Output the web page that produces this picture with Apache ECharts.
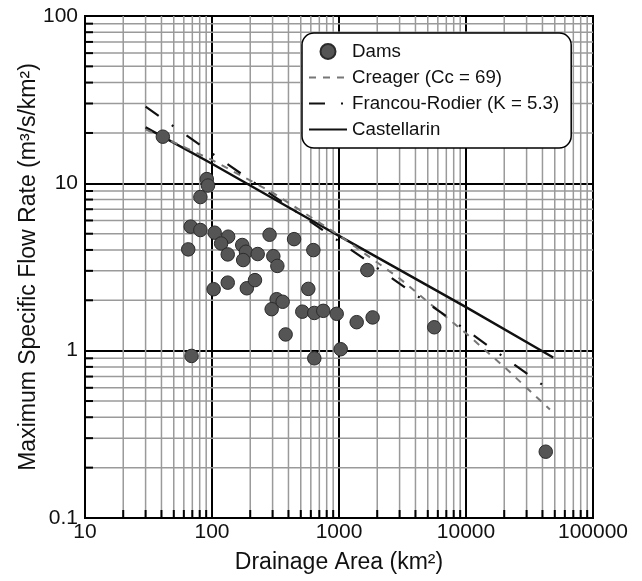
<!DOCTYPE html>
<html>
<head>
<meta charset="utf-8">
<script src="https://cdn.jsdelivr.net/npm/echarts@6/dist/echarts.min.js"></script>
<style>html,body{margin:0;padding:0;background:#fff;}#c{width:642px;height:581px;}</style>
</head>
<body>
<div id="c"></div>
<script>
// ---- data ----
const damArea = [41, 91, 93, 81, 68, 81, 105, 134, 284, 65, 118, 173, 185, 133, 176, 229, 304, 327, 103, 133, 188, 218, 323, 360, 295, 380, 69, 443, 628, 1672, 573, 514, 639, 752, 959, 1378, 1840, 1031, 639, 5623, 42460];
const damFlow = [19.0, 10.6, 9.7, 8.28, 5.51, 5.26, 5.07, 4.80, 4.93, 4.03, 4.37, 4.28, 3.90, 3.76, 3.48, 3.78, 3.67, 3.21, 2.33, 2.55, 2.36, 2.64, 2.03, 1.96, 1.77, 1.25, 0.93, 4.64, 3.99, 3.03, 2.34, 1.71, 1.68, 1.73, 1.66, 1.48, 1.58, 1.02, 0.90, 1.38, 0.249];

const creagerArea = [30, 100, 300, 1000, 3000, 10000, 20000, 45800];
const creagerFlow = [21.0, 13.8, 8.8, 4.9, 2.7, 1.27, 0.80, 0.445];

const francouArea = [30, 100, 1000, 10000, 44500];
const francouFlow = [28.7, 15.1, 4.5, 1.33, 0.59];

const castellarinArea = [30, 100, 1000, 10000, 48600];
const castellarinFlow = [21.6, 13.1, 4.85, 1.82, 0.91];

const xDecades = [10, 100, 1000, 10000];      // decades of the x axis (10 .. 100000)
const yDecades = [0.1, 1, 10];                // decades of the y axis (0.1 .. 100)
const minorSteps = [2, 3, 4, 5, 6, 7, 8, 9];

const xMin = 10, xMax = 100000, yMin = 0.1, yMax = 100;

// ---- build ----
const zip = (a, b) => a.map((v, i) => [v, b[i]]);
const xMinor = [];
xDecades.forEach(d => minorSteps.forEach(s => xMinor.push(+(d * s).toPrecision(3))));
const yMinor = [];
yDecades.forEach(d => minorSteps.forEach(s => yMinor.push(+(d * s).toPrecision(3))));

const gridData = xMinor.map(v => ['x', v]).concat(yMinor.map(v => ['y', v]));

const FONT = 'Liberation Sans, Arial, sans-serif';
const fmt = v => (v < 1 ? String(+v.toPrecision(1)) : String(Math.round(v)));
const noSymbol = {color: 'rgba(0,0,0,0)', borderColor: 'rgba(0,0,0,0)', borderWidth: 0, opacity: 0};

const chart = echarts.init(document.getElementById('c'), null, {renderer: 'canvas'});
chart.setOption({
  backgroundColor: '#fff',
  animation: false,
  grid: {left: 85, right: 49, top: 16, bottom: 63, show: true, borderColor: '#000', borderWidth: 2, backgroundColor: 'transparent'},
  xAxis: {
    type: 'log', logBase: 10, min: xMin, max: xMax,
    name: 'Drainage Area (km²)', nameLocation: 'middle', nameGap: 33, nameMoveOverlap: false,
    nameTextStyle: {fontFamily: FONT, fontSize: 23, color: '#111'},
    axisLine: {show: true, lineStyle: {color: '#000', width: 2}},
    axisTick: {show: false},
    axisLabel: {fontFamily: FONT, fontSize: 21, color: '#111', margin: 4, formatter: fmt},
    splitLine: {show: true, lineStyle: {color: '#000', width: 2}}
  },
  yAxis: {
    type: 'log', logBase: 10, min: yMin, max: yMax,
    name: 'Maximum Specific Flow Rate (m³/s/km²)', nameLocation: 'middle', nameGap: 45, nameMoveOverlap: false,
    nameTextStyle: {fontFamily: FONT, fontSize: 23, color: '#111'},
    axisLine: {show: true, lineStyle: {color: '#000', width: 2}},
    axisTick: {show: false},
    axisLabel: {fontFamily: FONT, fontSize: 21, color: '#111', margin: 7, formatter: fmt},
    splitLine: {show: true, lineStyle: {color: '#000', width: 2}}
  },
  legend: {
    orient: 'vertical', left: 302, top: 33,
    backgroundColor: '#fff', borderColor: '#000', borderWidth: 1.5, borderRadius: 12,
    padding: [9, 12, 9, 6], itemGap: 7, itemWidth: 38, itemHeight: 15,
    textStyle: {fontFamily: FONT, fontSize: 18.7, color: '#111'},
    data: [
      {name: 'Dams'},
      {name: 'Creager (Cc = 69)', itemStyle: noSymbol},
      {name: 'Francou-Rodier (K = 5.3)', itemStyle: noSymbol},
      {name: 'Castellarin', itemStyle: noSymbol}
    ]
  },
  series: [
    {
      type: 'custom', name: 'minorgrid', silent: true, z: 0,
      renderItem: function (params, api) {
        const kind = gridData[params.dataIndex][0];
        const v = gridData[params.dataIndex][1];
        if (kind === 'x') {
          const p0 = api.coord([v, yMin]), p1 = api.coord([v, yMax]);
          return {type: 'group', children: [
            {type: 'line', shape: {x1: p0[0], y1: p0[1], x2: p1[0], y2: p1[1]}, style: {stroke: '#9a9a9a', lineWidth: 1.5}},
            {type: 'line', shape: {x1: p0[0], y1: p0[1], x2: p0[0], y2: p0[1] - 8}, style: {stroke: '#000', lineWidth: 2}}
          ]};
        } else {
          const p0 = api.coord([xMin, v]), p1 = api.coord([xMax, v]);
          return {type: 'group', children: [
            {type: 'line', shape: {x1: p0[0], y1: p0[1], x2: p1[0], y2: p1[1]}, style: {stroke: '#9a9a9a', lineWidth: 1.5}},
            {type: 'line', shape: {x1: p0[0], y1: p0[1], x2: p0[0] + 8, y2: p0[1]}, style: {stroke: '#000', lineWidth: 2}}
          ]};
        }
      },
      data: gridData.map(d => d[0] === 'x' ? [d[1], 1] : [100, d[1]])
    },
    {
      type: 'line', name: 'Castellarin', data: zip(castellarinArea, castellarinFlow),
      symbol: 'none', z: 3, lineStyle: {color: '#111', width: 2.4, type: 'solid'}, itemStyle: {color: '#111'}
    },
    {
      type: 'line', name: 'Creager (Cc = 69)', data: zip(creagerArea, creagerFlow),
      symbol: 'none', z: 3, lineStyle: {color: '#777', width: 2, type: [7, 7]}, itemStyle: {color: '#777'}
    },
    {
      type: 'line', name: 'Francou-Rodier (K = 5.3)', data: zip(francouArea, francouFlow),
      symbol: 'none', z: 3, lineStyle: {color: '#111', width: 2.2, type: [16, 16, 2, 16]}, itemStyle: {color: '#111'}
    },
    {
      type: 'scatter', name: 'Dams', data: zip(damArea, damFlow),
      symbol: 'circle', symbolSize: 13.5, z: 4,
      itemStyle: {color: '#555', borderColor: '#2b2b2b', borderWidth: 1, opacity: 1}
    }
  ]
});
</script>
</body>
</html>
